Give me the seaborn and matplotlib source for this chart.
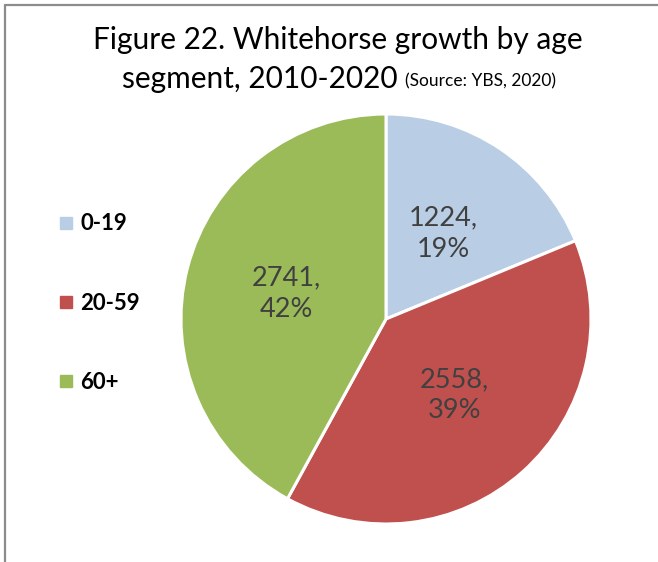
import matplotlib
matplotlib.use("Agg")
import matplotlib.pyplot as plt
import numpy as np
import seaborn as sns

sns.set_theme(style="white")
plt.rcParams["font.family"] = ["Lato", "DejaVu Sans"]

categories = ["0-19", "20-59", "60+"]
growth = [1224, 2558, 2741]
percent_labels = ["19%", "39%", "42%"]
colors = ["#B9CDE5", "#C0504D", "#9BBB59"]

fig = plt.figure(figsize=(6.58, 5.62), dpi=100)
fig.patch.set_facecolor("white")

# Pie area: centre ~ (386, 319) px, radius ~205 px
W, H = 658, 562
cx, cy, r = 386, 319, 205
ax = fig.add_axes([(cx - r) / W, 1 - (cy + r) / H, 2 * r / W, 2 * r / H])

wedges, _ = ax.pie(
    growth,
    colors=colors,
    startangle=90,
    counterclock=False,
    radius=1.0,
    wedgeprops=dict(edgecolor="white", linewidth=2.2),
)
ax.set_xlim(-1, 1)
ax.set_ylim(-1, 1)
ax.set_aspect("equal")
ax.axis("off")

total = sum(growth)
angle = 90.0
for val, pct in zip(growth, percent_labels):
    span = 360.0 * val / total
    mid = np.deg2rad(angle - span / 2)
    ax.text(0.5 * np.cos(mid), 0.5 * np.sin(mid), f"{val},\n{pct}",
            ha="center", va="center", fontsize=19.5, color="#404040",
            linespacing=1.3)
    angle -= span

# Legend
handles = [plt.Line2D([0], [0], marker="s", linestyle="none", markersize=8,
                      markerfacecolor=c, markeredgecolor=c) for c in colors]
leg = fig.legend(handles, categories, loc="center left",
                 bbox_to_anchor=(37 / W, 1 - 303 / H), frameon=False,
                 fontsize=16, labelspacing=2.62, handletextpad=0.25,
                 handlelength=0.8)
for t in leg.get_texts():
    t.set_fontweight("bold")
    t.set_color("black")

# Title
fig.text(338 / W, 1 - 40 / H, "Figure 22. Whitehorse growth by age",
         ha="center", va="center", fontsize=21.5, color="black")
fig.canvas.draw()
renderer = fig.canvas.get_renderer()
t1 = fig.text(0, 1 - 79 / H, "segment, 2010-2020 ", ha="left", va="center",
              fontsize=21.5, color="black")
t2 = fig.text(0, 1 - 81 / H, "(Source: YBS, 2020)", ha="left", va="center",
              fontsize=12.5, color="black")
w1 = t1.get_window_extent(renderer).width
w2 = t2.get_window_extent(renderer).width
start = 339 - (w1 + w2) / 2
t1.set_x(start / W)
t2.set_x((start + w1) / W)

# Frame lines (top and left)
fig.add_artist(plt.Line2D([5 / W, 1], [1 - 5 / H, 1 - 5 / H], color="#8C8C8C",
                          linewidth=1.6, transform=fig.transFigure))
fig.add_artist(plt.Line2D([5 / W, 5 / W], [0, 1 - 5 / H], color="#8C8C8C",
                          linewidth=1.6, transform=fig.transFigure))

fig.savefig("out.png", dpi=100, facecolor="white")
